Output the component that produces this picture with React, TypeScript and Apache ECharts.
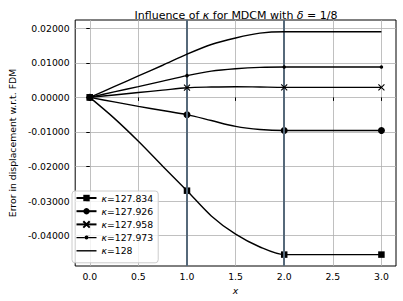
import React, { useEffect, useRef } from "react";
import * as echarts from "echarts";

const xs = [0, 0.25, 0.5, 0.75, 1, 1.25, 1.5, 1.75, 2, 2.5, 3];
const k127834 = [0, -0.006, -0.0127, -0.0199, -0.027, -0.0343, -0.0396, -0.0433, -0.0455, -0.0455, -0.0455];
const k127926 = [0, -0.0013, -0.0026, -0.0038, -0.005, -0.0067, -0.0084, -0.0093, -0.0096, -0.0096, -0.0096];
const k127958 = [0, 0.0007, 0.0014, 0.0021, 0.0028, 0.003, 0.0031, 0.003, 0.0029, 0.0029, 0.0029];
const k127973 = [0, 0.0016, 0.0031, 0.0047, 0.0063, 0.0076, 0.0083, 0.0087, 0.0088, 0.0088, 0.0088];
const k128 = [0, 0.0031, 0.0062, 0.0093, 0.0125, 0.0153, 0.0172, 0.0186, 0.019, 0.019, 0.019];
const seriesNames = ["κ=127.834", "κ=127.926", "κ=127.958", "κ=127.973", "κ=128"];
const xTicks = [0, 0.5, 1, 1.5, 2, 2.5, 3];
const yTicks = [-0.04, -0.03, -0.02, -0.01, 0, 0.01, 0.02];
const vlines = [1, 2];

const FONT = "DejaVu Sans";
const X_PATH = "path://M0,0L10,10M10,0L0,10";
const LINE_ICON = "path://M0,0H20V1.4H0Z";
const POINT_ICON =
  "path://M0,1.3H8V2.7H0Z M12,1.3H20V2.7H12Z M8,2A2,2 0 1,1 12,2A2,2 0 1,1 8,2Z";

export default function App() {
  const ref = useRef<HTMLDivElement>(null);
  useEffect(() => {
    const chart = echarts.init(ref.current!, null, { renderer: "svg" });
    const valueSets = [k127834, k127926, k127958, k127973, k128];
    const symbols = ["rect", "circle", X_PATH, "circle", "none"];
    const sizes = [6.5, 7, 6, 3.5, 0];
    const series: any[] = valueSets.map((vals, si) => ({
      type: "line",
      name: seriesNames[si],
      smooth: 0.3,
      symbol: symbols[si],
      symbolSize: sizes[si],
      showSymbol: si !== 4,
      itemStyle: {
        color: "#000",
        borderColor: "#000",
        borderWidth: si === 2 ? 1.1 : 0,
      },
      lineStyle: { color: "#000", width: 1.4 },
      data: xs.map((x, i) => ({
        value: [x, vals[i]],
        symbol: Number.isInteger(x) ? symbols[si] : "none",
      })),
      z: 3 + si,
      markLine:
        si === 0
          ? {
              silent: true,
              symbol: "none",
              label: { show: false },
              lineStyle: { color: "#56697a", width: 2, type: "solid" },
              data: vlines.map((v) => ({ xAxis: v })),
            }
          : undefined,
    }));

    const legendData = seriesNames.map((name, i) =>
      i === 3 ? { name, icon: POINT_ICON } : i === 4 ? { name, icon: LINE_ICON } : { name }
    );

    chart.setOption({
      animation: false,
      textStyle: { fontFamily: FONT },
      title: {
        text: "{n|Influence of }{i|κ}{n| for MDCM with }{i|δ}{n| = 1/8}",
        left: 231,
        textAlign: "center",
        top: 5,
        textStyle: {
          fontWeight: "normal",
          rich: {
            n: { fontFamily: FONT, fontSize: 11, color: "#000", fontWeight: "normal" },
            i: { fontFamily: FONT, fontSize: 11, color: "#000", fontStyle: "italic", fontWeight: "normal" },
          },
        },
      },
      grid: {
        left: 67,
        right: 7,
        top: 20,
        bottom: 35,
        show: true,
        borderColor: "#000",
        borderWidth: 1,
        backgroundColor: "transparent",
      },
      legend: {
        orient: "vertical",
        left: 72,
        top: 191,
        padding: [2.5, 5, 7.5, 3.5],
        itemGap: 4.2,
        itemWidth: 20,
        itemHeight: 8,
        backgroundColor: "rgba(255,255,255,0.8)",
        borderColor: "#cccccc",
        borderWidth: 1,
        borderRadius: 3,
        data: legendData,
        formatter: (name: string) => "{i|κ}{n|" + name.slice(1) + "}",
        textStyle: {
          rich: {
            n: { fontFamily: FONT, fontSize: 9.3, color: "#000" },
            i: { fontFamily: FONT, fontSize: 9.3, color: "#000", fontStyle: "italic" },
          },
        },
      },
      xAxis: {
        type: "value",
        min: -0.15,
        max: 3.15,
        axisLine: { show: false },
        axisTick: { show: true, length: 3.5, lineStyle: { color: "#000" }, customValues: xTicks },
        axisLabel: {
          customValues: xTicks,
          margin: 6,
          fontSize: 9.3,
          color: "#000",
          fontFamily: FONT,
          formatter: (v: number) => v.toFixed(1),
        },
        splitLine: { show: true, lineStyle: { color: "#b0b0b0", width: 0.8 } },
        name: "x",
        nameLocation: "middle",
        nameGap: 17,
        nameTextStyle: { fontSize: 9.3, color: "#000", fontStyle: "italic", fontFamily: FONT },
      },
      yAxis: {
        type: "value",
        min: -0.0488,
        max: 0.0224,
        axisLine: { show: false },
        axisTick: { show: true, length: 3.5, lineStyle: { color: "#000" }, customValues: yTicks },
        axisLabel: {
          customValues: yTicks,
          margin: 5.5,
          fontSize: 9.3,
          color: "#000",
          fontFamily: FONT,
          formatter: (v: number) => v.toFixed(5),
        },
        splitLine: { show: true, lineStyle: { color: "#b0b0b0", width: 0.8 } },
        name: "Error in displacement w.r.t. FDM",
        nameLocation: "middle",
        nameGap: 51,
        nameTextStyle: { fontSize: 9.3, color: "#000", fontFamily: FONT },
      },
      series,
    });
    return () => chart.dispose();
  }, []);
  return <div ref={ref} style={{ width: 403, height: 301, position: "absolute", left: 0, top: 0 }} />;
}
